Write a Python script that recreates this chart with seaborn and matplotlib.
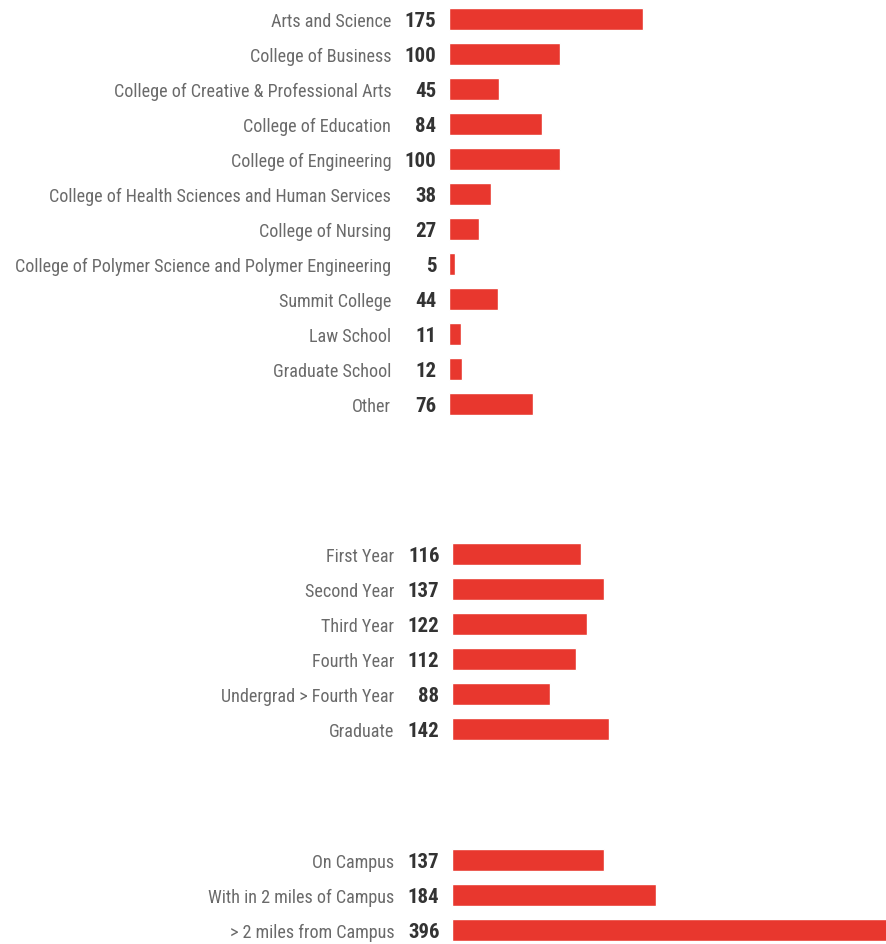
import matplotlib
matplotlib.use("Agg")
import matplotlib.pyplot as plt
import seaborn as sns
import pandas as pd
from matplotlib import font_manager as fm

# ---- data ----
college_labels = ["Arts and Science", "College of Business",
                  "College of Creative & Professional Arts", "College of Education",
                  "College of Engineering", "College of Health Sciences and Human Services",
                  "College of Nursing", "College of Polymer Science and Polymer Engineering",
                  "Summit College", "Law School", "Graduate School", "Other"]
college_values = [175, 100, 45, 84, 100, 38, 27, 5, 44, 11, 12, 76]

year_labels = ["First Year", "Second Year", "Third Year", "Fourth Year",
               "Undergrad > Fourth Year", "Graduate"]
year_values = [116, 137, 122, 112, 88, 142]

residence_labels = ["On Campus", "With in 2 miles of Campus", "> 2 miles from Campus"]
residence_values = [137, 184, 396]

# ---- style ----
sns.set_theme(style="white")
names = {f.name for f in fm.fontManager.ttflist}
family = "DejaVu Sans"
for cand in ["Liberation Sans Narrow", "DejaVu Sans Condensed", "Roboto Condensed",
             "Open Sans Condensed", "Liberation Sans"]:
    if cand in names:
        family = cand
        break
plt.rcParams["font.family"] = [family, "DejaVu Sans"]

BAR = "#E8372E"
LABEL = "#6a6a6a"
NUM = "#333333"

W, H = 886, 945
fig = plt.figure(figsize=(W / 100, H / 100), dpi=100)
fig.patch.set_facecolor("white")

# fit label font so the longest label spans the same width as in the reference
renderer = fig.canvas.get_renderer()
probe = fig.text(0, 0, max(college_labels, key=len), fontsize=14)
probe_w = probe.get_window_extent(renderer).width
probe.remove()
label_size = 14 * 380 / probe_w

PX_PER_UNIT = 1.108
ROW = 35.0

groups = [
    (college_labels, college_values, 449, 20),
    (year_labels, year_values, 452, 555),
    (residence_labels, residence_values, 452, 861),
]

for labels, values, left_px, first_center in groups:
    n = len(labels)
    top_px = first_center - ROW / 2
    height_px = n * ROW
    ax = fig.add_axes([left_px / W, 1 - (top_px + height_px) / H,
                       (W - left_px) / W, height_px / H])
    df = pd.DataFrame({"label": labels, "value": values})
    sns.barplot(data=df, x="value", y="label", orient="h", color=BAR,
                saturation=1, width=0.65, ax=ax)
    ax.set_xlim(0, (W - left_px) / PX_PER_UNIT)
    ax.set_ylim(n - 0.5, -0.5)
    ax.set_xlabel("")
    ax.set_ylabel("")
    ax.set_xticks([])
    for s in ax.spines.values():
        s.set_visible(False)
    ax.set_facecolor("none")
    ax.tick_params(axis="y", length=0, pad=41.5, labelsize=label_size, labelcolor=LABEL)
    for i, v in enumerate(values):
        ax.annotate(str(v), xy=(0, i), xytext=(-9, -1), textcoords="offset points",
                    ha="right", va="center", fontsize=15, fontweight="bold",
                    color=NUM, annotation_clip=False)

fig.savefig("out.png", dpi=100, facecolor="white")
